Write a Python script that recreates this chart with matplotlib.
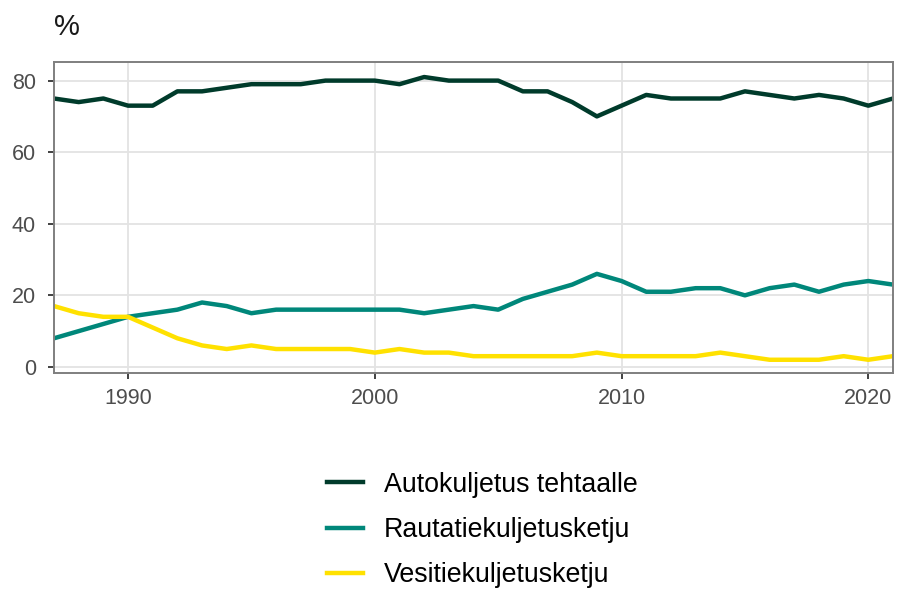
import matplotlib
matplotlib.use("Agg")
from matplotlib import pyplot as plt
from matplotlib.lines import Line2D

plt.rcParams['font.family'] = ['Liberation Sans', 'DejaVu Sans']

# data
years = list(range(1987, 2022))
auto = [75, 74, 75, 73, 73, 77, 77, 78, 79, 79, 79, 80, 80, 80, 79, 81, 80, 80,
        80, 77, 77, 74, 70, 73, 76, 75, 75, 75, 77, 76, 75, 76, 75, 73, 75]
rail = [8, 10, 12, 14, 15, 16, 18, 17, 15, 16, 16, 16, 16, 16, 16, 15, 16, 17,
        16, 19, 21, 23, 26, 24, 21, 21, 22, 22, 20, 22, 23, 21, 23, 24, 23]
water = [17, 15, 14, 14, 11, 8, 6, 5, 6, 5, 5, 5, 5, 4, 5, 4, 4, 3,
         3, 3, 3, 3, 4, 3, 3, 3, 3, 4, 3, 2, 2, 2, 3, 2, 3]
labels = ["Autokuljetus tehtaalle", "Rautatiekuljetusketju", "Vesitiekuljetusketju"]
colors = ["#003b2b", "#00877a", "#ffe100"]

fig = plt.figure(figsize=(8.99, 5.89), dpi=100)
ax = fig.add_axes([54 / 899, 1 - 373 / 589, (893 - 54) / 899, (373 - 62) / 589])

for series, col in zip([auto, rail, water], colors):
    ax.plot(years, series, color=col, lw=3.2, solid_joinstyle='round')

ax.set_xlim(1987, 2021)
ax.set_ylim(-1.7, 85.2)
ax.set_xticks([1990, 2000, 2010, 2020])
ax.set_yticks([0, 20, 40, 60, 80])
ax.grid(True, color='#e3e3e3', lw=1.3)
ax.set_axisbelow(True)
for s in ax.spines.values():
    s.set_color('#7f7f7f')
    s.set_linewidth(1.4)
ax.tick_params(colors='#333333', labelcolor='#4d4d4d', labelsize=15.5,
               length=4.5, width=1.3)
ax.tick_params(axis='y', pad=8.5)
ax.tick_params(axis='x', pad=6)

fig.text(54 / 899, 1 - 27 / 589, "%", fontsize=21, color='#1a1a1a',
         va='center', ha='left')

handles = [Line2D([], [], color=c, lw=3.2) for c in colors]
fig.legend(handles, labels, loc='center left', bbox_to_anchor=(327 / 899, 1 - 530 / 589),
           frameon=False, fontsize=19.3, handlelength=1.33, labelspacing=0.72,
           handletextpad=0.8, borderpad=0, borderaxespad=0)

fig.savefig("out.png", dpi=100)
